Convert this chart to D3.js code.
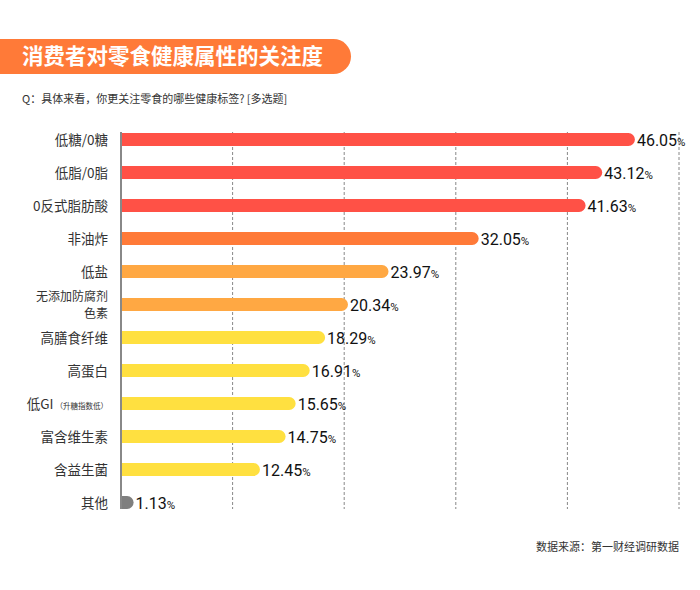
<!DOCTYPE html>
<html>
<head>
<meta charset="utf-8">
<script src="https://cdn.jsdelivr.net/npm/d3@7"></script>
<style>
  body { margin: 0; background: #fff; }
  svg { display: block; font-family: "Noto Sans CJK SC", "Noto Sans", sans-serif; }
</style>
</head>
<body>
<svg id="chart"></svg>
<script>
const title = '消费者对零食健康属性的关注度'
const question = 'Q：具体来看，你更关注零食的哪些健康标签? [多选题]'
const source = '数据来源：第一财经调研数据'

// categories, top to bottom
const categories = ['低糖/0糖', '低脂/0脂', '0反式脂肪酸', '非油炸', '低盐', '无添加防腐剂\n色素',
  '高膳食纤维', '高蛋白', '低GI', '富含维生素', '含益生菌', '其他']
const values = [46.05, 43.12, 41.63, 32.05, 23.97, 20.34, 18.29, 16.91, 15.65, 14.75, 12.45, 1.13]
const colors = ['#ff5146', '#ff5146', '#ff5146', '#ff7a38', '#ffa843', '#ffa843',
  '#ffe040', '#ffe040', '#ffe040', '#ffe040', '#ffe040', '#7f7f7f']
const gridValues = [10, 20, 30, 40, 50]

const width = 700
const height = 590
const margin = ({top: 123, right: 21, bottom: 71, left: 121})

const svg = d3.select('#chart')
  .attr('width', width)
  .attr('height', height)

const x = d3.scaleLinear()
  .domain([0, 50])
  .range([margin.left, width - margin.right])

const y = d3.scaleBand()
  .domain(categories)
  .range([margin.top, height - margin.bottom])
  .paddingInner(0.6)
  .paddingOuter(0.3)

// title banner, flat left, round right
const bannerH = 35
svg.append('path')
  .attr('d', `M0,39 H${351 - bannerH/2} A${bannerH/2},${bannerH/2} 0 0 1 ${351 - bannerH/2},${39 + bannerH} H0 Z`)
  .attr('fill', '#ff7a38')
svg.append('text')
  .attr('x', 22)
  .attr('y', 64)
  .attr('fill', '#fff')
  .attr('font-size', 21.5)
  .attr('font-weight', 'bold')
  .text(title)

svg.append('text')
  .attr('x', 22)
  .attr('y', 103)
  .attr('fill', '#333')
  .attr('font-size', 11)
  .text(question)

// dashed gridlines
svg.append('g')
  .selectAll('line')
  .data(gridValues)
  .join('line')
    .attr('x1', d => x(d))
    .attr('x2', d => x(d))
    .attr('y1', 132)
    .attr('y2', 509)
    .attr('stroke', '#888')
    .attr('stroke-width', 1)
    .attr('stroke-dasharray', '3,2')

const rows = categories.map((c, i) => ({cat: c, value: values[i], color: colors[i]}))
const bh = 13

// bars: square at the axis, rounded at the end
svg.append('g')
  .selectAll('path')
  .data(rows)
  .join('path')
    .attr('fill', d => d.color)
    .attr('d', d => {
      const y0 = y(d.cat) + y.bandwidth()/2 - bh/2
      const r = bh/2
      const x1 = Math.max(x(d.value), x(0) + r)
      return `M${x(0)},${y0} H${x1 - r} A${r},${r} 0 0 1 ${x1 - r},${y0 + bh} H${x(0)} Z`
    })

// axis line
svg.append('line')
  .attr('x1', x(0))
  .attr('x2', x(0))
  .attr('y1', 132)
  .attr('y2', 509)
  .attr('stroke', '#888')
  .attr('stroke-width', 2)

// category labels
const labelG = svg.append('g')
  .attr('text-anchor', 'end')
  .attr('fill', '#333')

rows.forEach(d => {
  const cy = y(d.cat) + y.bandwidth()/2
  const lines = d.cat.split('\n')
  if (lines.length > 1) {
    // two separate lines for the long label
    lines.forEach((l, i) => {
      labelG.append('text')
        .attr('x', 108)
        .attr('y', cy - 4 + i * 17.5)
        .attr('font-size', 12)
        .text(l)
    })
  } else if (d.cat === '低GI') {
    const t = labelG.append('text')
      .attr('x', 108)
      .attr('y', cy + 5)
      .attr('font-size', 13.5)
    t.append('tspan').text('低GI')
    t.append('tspan').attr('font-size', 7.5).attr('dx', 2).text('（升糖指数低）')
  } else {
    labelG.append('text')
      .attr('x', 108)
      .attr('y', cy + 5)
      .attr('font-size', 13.5)
      .text(d.cat)
  }
})

// value labels
const vlabels = svg.append('g')
  .selectAll('text')
  .data(rows)
  .join('text')
    .attr('x', d => Math.max(x(d.value), x(0) + bh/2) + 2)
    .attr('y', d => y(d.cat) + y.bandwidth()/2)
    .attr('dy', 6.5)
    .attr('fill', '#111')
    .attr('font-family', 'Roboto, "Noto Sans", sans-serif')
    .attr('font-weight', 400)
    .attr('font-size', 16)

vlabels.append('tspan').text(d => d.value.toFixed(2))
vlabels.append('tspan').attr('font-size', 11.5).text('%')

svg.append('text')
  .attr('x', 679)
  .attr('y', 551)
  .attr('text-anchor', 'end')
  .attr('fill', '#333')
  .attr('font-size', 11)
  .text(source)
</script>
</body>
</html>
